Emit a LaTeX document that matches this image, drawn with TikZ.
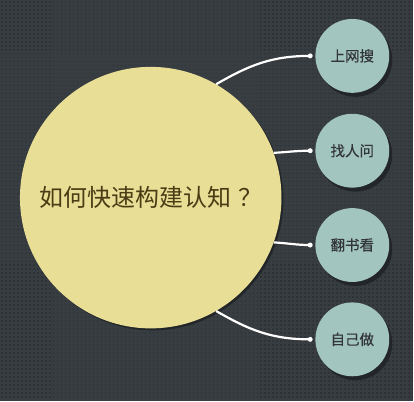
\documentclass[tikz,border=0pt]{standalone}
\usepackage{fontspec}
\newfontfamily\cjk{Noto Sans CJK SC}
\newfontfamily\cjkb[FakeBold=0.5]{Noto Sans CJK SC}
\usetikzlibrary{shadows}
\definecolor{bg}{HTML}{383D41}
\definecolor{dotc}{HTML}{2E3337}
\definecolor{bigy}{HTML}{E8DE96}
\definecolor{teal}{HTML}{A2C5BF}
\definecolor{bigtxt}{HTML}{4A3C14}
\definecolor{smtxt}{HTML}{333638}
\definecolor{shad}{HTML}{222629}
\begin{document}
\begin{tikzpicture}[x=1pt,y=-1pt,
  bigc/.style={circle,fill=bigy,minimum size=262pt,inner sep=0pt,
    font=\cjk\fontsize{24}{26}\selectfont,text=bigtxt,
    drop shadow={shadow xshift=2pt,shadow yshift=-2pt,fill=shad,opacity=1}},
  smc/.style={circle,fill=teal,minimum size=74pt,inner sep=0pt,
    font=\cjkb\fontsize{14.5}{16}\selectfont,text=smtxt,
    drop shadow={shadow xshift=3pt,shadow yshift=-4pt,fill=shad,opacity=1}},
  link/.style={white,line width=2.2pt},
  dotrow/.style={dotc,line width=1.6pt,dash pattern=on 1.6pt off 2.4pt},
  enddot/.style={circle,fill=white,inner sep=0pt,minimum size=5pt}]
\fill[bg] (0,0) rectangle (414,402);
\foreach \j in {1.8,5.8,...,401} {\draw[dotrow] (1,\j) -- (414,\j);}
\useasboundingbox (0,0) rectangle (414,402);
\node[smc] (s1) at (353,56) {上网搜};
\node[smc] (s2) at (353,151) {找人问};
\node[smc] (s3) at (353,245.5) {翻书看};
\node[smc] (s4) at (353,340) {自己做};
\coordinate (e1) at ([xshift=-5pt]s1.west);
\coordinate (e2) at ([xshift=-5pt]s2.west);
\coordinate (e3) at ([xshift=-5pt]s3.west);
\coordinate (e4) at ([xshift=-5pt]s4.west);
\node[bigc] (c) at (151,198) {如何快速构建认知\hspace{7pt}？\hspace{-5pt}};
\draw[link] (c.60) to[out=30,in=180] (e1);
\draw[link] (c.20) to[out=3,in=180] (e2);
\draw[link] (c.-20) to[out=-3,in=180] (e3);
\draw[link] (c.-60) to[out=-30,in=180] (e4);
\node[enddot] (d1) at (e1) {};
\node[enddot] (d2) at (e2) {};
\node[enddot] (d3) at (e3) {};
\node[enddot] (d4) at (e4) {};
\end{tikzpicture}
\end{document}
